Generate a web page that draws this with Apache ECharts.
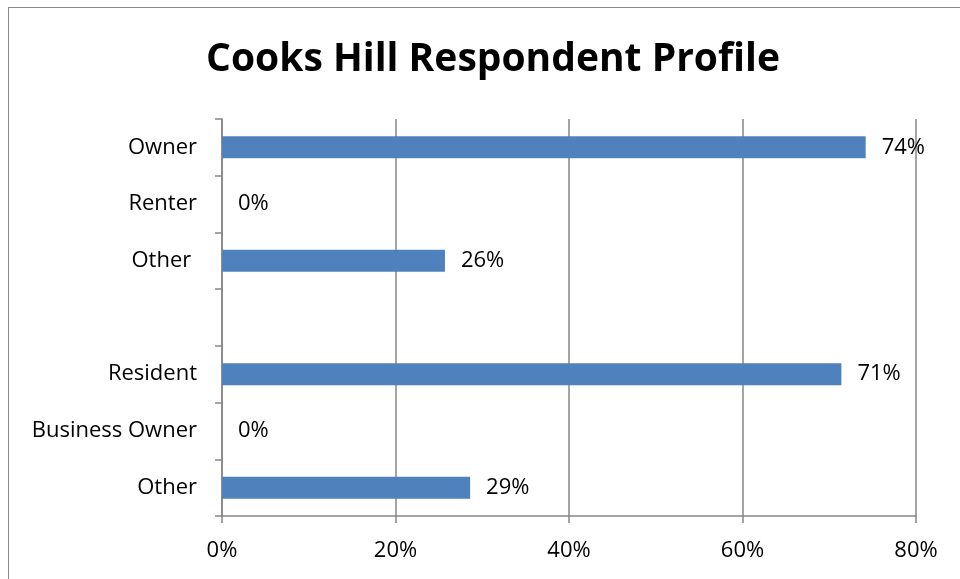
<!DOCTYPE html>
<html><head><meta charset="utf-8">
<script src="https://cdn.jsdelivr.net/npm/echarts@6/dist/echarts.min.js"></script>
<style>
html,body{margin:0;padding:0;background:#fff;overflow:hidden}
#frame{position:absolute;left:8px;top:7px;width:1000px;height:700px;border-left:1px solid #888;border-top:1px solid #888}
#chart{position:absolute;left:0;top:0;width:960px;height:579px}
</style></head>
<body>
<div id="frame"></div>
<div id="chart"></div>
<script>
const categories = ['Owner', 'Renter', 'Other ', '', 'Resident', 'Business Owner', 'Other'];
const values = [74.2, 0, 25.7, null, 71.4, 0, 28.6];
const xTicks = [0, 20, 40, 60, 80];

const chart = echarts.init(document.getElementById('chart'));
const font = 'Open Sans, Noto Sans, sans-serif';
chart.setOption({
  animation: false,
  title: {
    text: 'Cooks Hill Respondent Profile',
    left: 488, top: 35, textAlign: 'center',
    textStyle: {fontFamily: font, fontWeight: 'bold', fontSize: 39, color: '#000'}
  },
  grid: {left: 222, right: 44, top: 119, bottom: 63, containLabel: false},
  xAxis: {
    type: 'value', min: xTicks[0], max: xTicks[xTicks.length - 1], interval: 20,
    axisLine: {show: true, lineStyle: {color: '#868686', width: 1.5}},
    axisTick: {show: true, length: 7, inside: false, lineStyle: {color: '#868686', width: 1.5}},
    splitLine: {show: true, lineStyle: {color: '#868686', width: 1.5}},
    axisLabel: {formatter: v => v + '%', fontFamily: font, fontSize: 22, color: '#000', margin: 24}
  },
  yAxis: {
    type: 'category', data: categories, inverse: true,
    axisLine: {show: true, lineStyle: {color: '#868686', width: 1.5}},
    axisTick: {show: true, length: 7, alignWithLabel: false, lineStyle: {color: '#868686', width: 1.5}},
    splitLine: {show: false},
    axisLabel: {fontFamily: font, fontSize: 22, color: '#000', margin: 25}
  },
  series: [{
    type: 'bar', data: values, barWidth: 22,
    itemStyle: {color: '#4F81BD'},
    label: {
      show: true, position: 'right', distance: 16,
      formatter: p => p.value == null ? '' : Math.round(p.value) + '%',
      fontFamily: font, fontSize: 22, color: '#000'
    }
  }]
});
</script>
</body></html>
